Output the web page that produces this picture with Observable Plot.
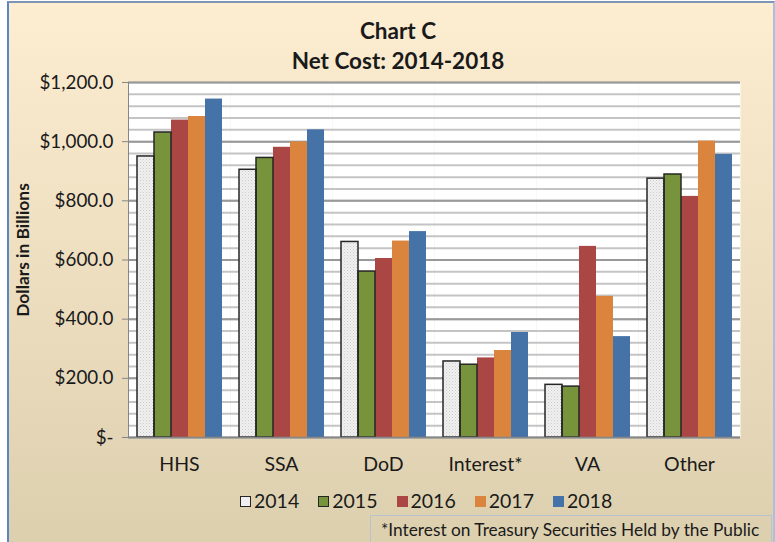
<!DOCTYPE html>
<html>
<head>
<meta charset="utf-8">
<script src="https://cdn.jsdelivr.net/npm/d3@7"></script>
<script src="https://cdn.jsdelivr.net/npm/@observablehq/plot@0.6"></script>
<style>
  html, body { margin: 0; padding: 0; background: #ffffff; }
  #wrap { position: relative; width: 775px; height: 542px; overflow: hidden; font-family: Lato, "Open Sans", sans-serif; color: #1a1a1a; }
  #panel { position: absolute; left: 7px; top: 1px; width: 764px; height: 545px;
    background: linear-gradient(#fdedd1, #dccfae);
    border-top: 2px solid #7f95b5; border-left: 2px solid #5b86c5; border-right: 2px solid #a9c1dc; }
  .title { position: absolute; left: 0; width: 796px; text-align: center; font-weight: bold; font-size: 22.5px; }
  #ylab { position: absolute; left: 22px; top: 250px; transform: translate(-50%, -50%) rotate(-90deg); font-weight: bold; font-size: 17.4px; white-space: nowrap; }
  #plot { position: absolute; left: 0; top: 0; }
  #legend { position: absolute; top: 488px; left: 240px; display: flex; font-size: 19.5px; line-height: 26px; }
  .item { display: flex; align-items: center; margin-right: 19px; }
  .sw { width: 11px; height: 11px; margin-right: 3px; box-sizing: border-box; }
  #note { position: absolute; left: 370px; top: 515px; width: 402px; height: 40px; border: 1px solid #b9c3cf; box-sizing: border-box; font-size: 17.3px; padding-left: 10px; padding-top: 3px; }
</style>
</head>
<body>
<div id="wrap">
  <div id="panel"></div>
  <div class="title" style="top:17px">Chart C</div>
  <div class="title" style="top:47px">Net Cost: 2014-2018</div>
  <div id="ylab">Dollars in Billions</div>
  <div id="plot"></div>
  <div id="legend"></div>
  <div id="note">*Interest on Treasury Securities Held by the Public</div>
</div>
<script>
const categories = ["HHS", "SSA", "DoD", "Interest*", "VA", "Other"];
const years = [2014, 2015, 2016, 2017, 2018];
const v2014 = [950, 905, 661, 257, 178, 875];
const v2015 = [1031, 945, 561, 246, 172, 889];
const v2016 = [1073, 981, 605, 269, 646, 815];
const v2017 = [1085, 999, 664, 294, 477, 1002];
const v2018 = [1144, 1040, 696, 355, 341, 957];
const yTicks = [0, 200, 400, 600, 800, 1000, 1200];
const colors = ["url(#dots2014)", "#77933c", "#aa4643", "#db843d", "#4572a7"];

const series = [v2014, v2015, v2016, v2017, v2018];
const data = [];
categories.forEach((c, i) => years.forEach((y, j) => data.push({cat: c, year: y, value: series[j][i]})));
const minorTicks = d3.range(0, 1201, 40);

const chart = Plot.plot({
  width: 775,
  height: 480,
  marginTop: 82,
  marginBottom: 43,
  marginLeft: 126,
  marginRight: 34,
  style: {background: "transparent", fontFamily: "Lato, 'Open Sans', sans-serif", fontSize: "19px", color: "#1a1a1a"},
  fx: {domain: categories, padding: 0, label: null},
  x: {domain: years, axis: null, paddingInner: 0, paddingOuter: 0.3725},
  y: {domain: [0, 1200], axis: null},
  color: {domain: years, range: colors},
  marks: [
    Plot.frame({fill: "white", stroke: null}),
    Plot.gridY(minorTicks, {stroke: "#c4c4c4", strokeOpacity: 1, strokeWidth: 2}),
    Plot.gridY(yTicks, {stroke: "#999999", strokeOpacity: 1, strokeWidth: 2}),
    Plot.barY(data, {fx: "cat", x: "year", y: "value", fill: "year"}),
    Plot.barY(data.filter(d => d.year <= 2015), {fx: "cat", x: "year", y: "value", fill: "none", stroke: "#262626", strokeWidth: 1.5}),
    Plot.axisY(yTicks, {tickSize: 6, tickPadding: 9, stroke: "#868686", fontSize: 18.8,
      tickFormat: d => d === 0 ? "$-" : "$" + d3.format(",.1f")(d), label: null}),
    Plot.axisFx({anchor: "bottom", tickSize: 0, tickPadding: 20, fontSize: 19.5, label: null}),
    Plot.frame({anchor: "left", stroke: "#868686", facetAnchor: "left"}),
    Plot.ruleY([0], {stroke: "#868686", strokeWidth: 1.5})
  ]
});
chart.insertAdjacentHTML("afterbegin",
  '<defs><pattern id="dots2014" width="3" height="3" patternUnits="userSpaceOnUse">' +
  '<rect width="3" height="3" fill="#f0f0f0"/><rect x="0" y="0" width="1" height="1" fill="#cccccc"/>' +
  '<rect x="1.5" y="1.5" width="1" height="1" fill="#dadada"/></pattern></defs>');
document.getElementById("plot").appendChild(chart);

const legend = document.getElementById("legend");
years.forEach((y, j) => {
  const item = document.createElement("div");
  item.className = "item";
  const sw = document.createElement("div");
  sw.className = "sw";
  if (j === 0) { sw.style.background = "#f0f0f0"; sw.style.border = "1.5px solid #262626"; }
  else if (j === 1) { sw.style.background = colors[j]; sw.style.border = "1.5px solid #262626"; }
  else { sw.style.background = colors[j]; }
  const t = document.createElement("span");
  t.textContent = y;
  item.appendChild(sw); item.appendChild(t);
  legend.appendChild(item);
});
</script>
</body>
</html>
